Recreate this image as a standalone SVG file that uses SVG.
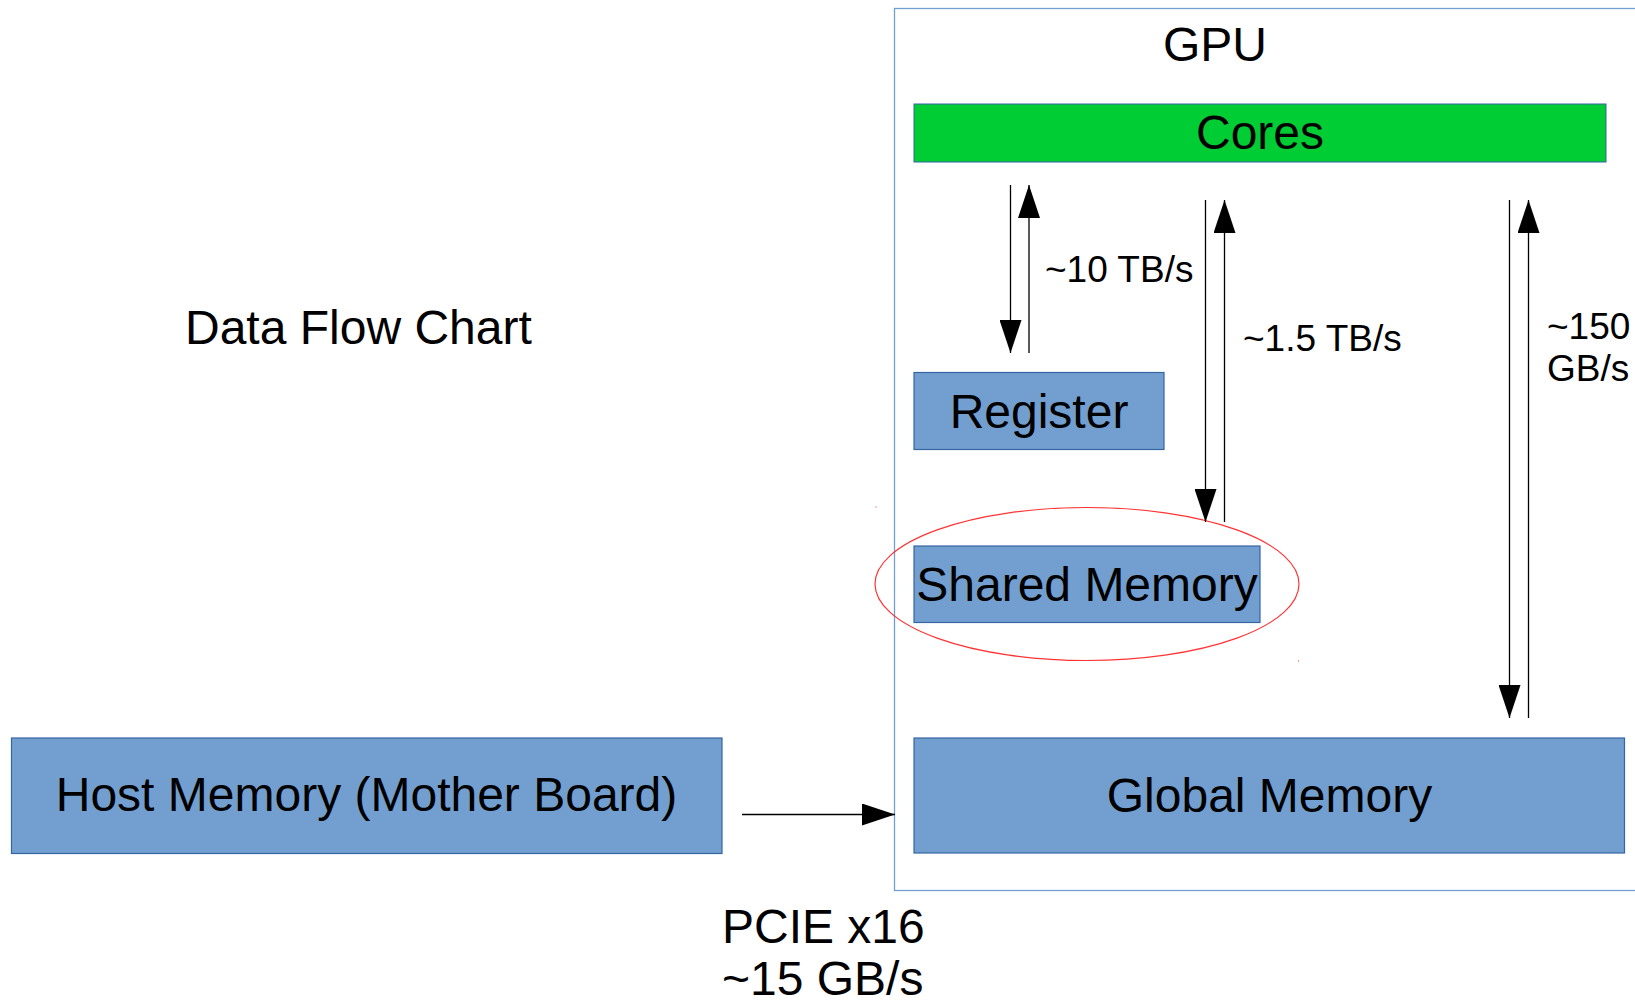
<svg xmlns="http://www.w3.org/2000/svg" width="1635" height="1002" viewBox="0 0 1635 1002">
<style>
text{font-family:"Liberation Sans",Arial,sans-serif;fill:#000}
.big{font-size:48px}
.mid{font-size:37px}
.box{fill:#729fcf;stroke:#3465a4;stroke-width:1.2}
.ln{stroke:#000;stroke-width:1.3;fill:none}
</style>
<defs>
<marker id="ah" viewBox="0 0 33 22" refX="33" refY="11" markerWidth="33" markerHeight="22" markerUnits="userSpaceOnUse" orient="auto">
<path d="M0,0 L33,11 L0,22 Z" fill="#000"/>
</marker>
</defs>
<rect width="1635" height="1002" fill="#fff"/>
<g id="title"><text class="big" x="185" y="344">Data Flow Chart</text></g>
<g id="gpu">
<rect x="894.5" y="8.5" width="760" height="882" fill="none" stroke="#729fcf" stroke-width="1.3"/>
<text class="big" x="1215" y="61" text-anchor="middle">GPU</text>
</g>
<g id="cores">
<rect x="914" y="104" width="692" height="58" fill="#00cc33" stroke="#3465a4" stroke-width="1"/>
<text class="big" x="1260" y="149" text-anchor="middle">Cores</text>
</g>
<g id="register">
<rect class="box" x="914" y="372.5" width="250" height="77"/>
<text class="big" x="1039" y="427.5" text-anchor="middle">Register</text>
</g>
<g id="shared">
<rect class="box" x="914" y="546" width="346" height="76.5"/>
<text class="big" x="1087" y="601" text-anchor="middle">Shared Memory</text>
<ellipse cx="1087" cy="584" rx="212" ry="76.5" fill="none" stroke="#ff3333" stroke-width="1.2"/>
<rect x="875.5" y="506.5" width="1" height="1" fill="#ff3333"/>
<rect x="1298" y="660.5" width="1" height="1" fill="#ff3333"/>
</g>
<g id="global">
<rect class="box" x="914" y="738" width="710.5" height="115"/>
<text class="big" x="1269.5" y="812" text-anchor="middle">Global Memory</text>
</g>
<g id="host">
<rect class="box" x="11.5" y="738" width="710.5" height="115.5"/>
<text class="big" x="366.5" y="811" text-anchor="middle">Host Memory (Mother Board)</text>
</g>
<g id="connectors">
<line class="ln" x1="1010.5" y1="185" x2="1010.5" y2="353" marker-end="url(#ah)"/>
<line class="ln" x1="1029" y1="353" x2="1029" y2="185" marker-end="url(#ah)"/>
<line class="ln" x1="1205.5" y1="200" x2="1205.5" y2="522" marker-end="url(#ah)"/>
<line class="ln" x1="1224.5" y1="522" x2="1224.5" y2="200" marker-end="url(#ah)"/>
<line class="ln" x1="1509.5" y1="200" x2="1509.5" y2="718" marker-end="url(#ah)"/>
<line class="ln" x1="1528.5" y1="718" x2="1528.5" y2="200" marker-end="url(#ah)"/>
<line class="ln" x1="742" y1="814.5" x2="895" y2="814.5" marker-end="url(#ah)"/>
</g>
<g id="labels">
<text class="mid" x="1045" y="282">~10 TB/s</text>
<text class="mid" x="1243" y="351">~1.5 TB/s</text>
<text class="mid" x="1547" y="339">~150</text>
<text class="mid" x="1547" y="381">GB/s</text>
<text class="big" x="722" y="943">PCIE x16</text>
<text class="big" x="722" y="995">~15 GB/s</text>
</g>
</svg>
